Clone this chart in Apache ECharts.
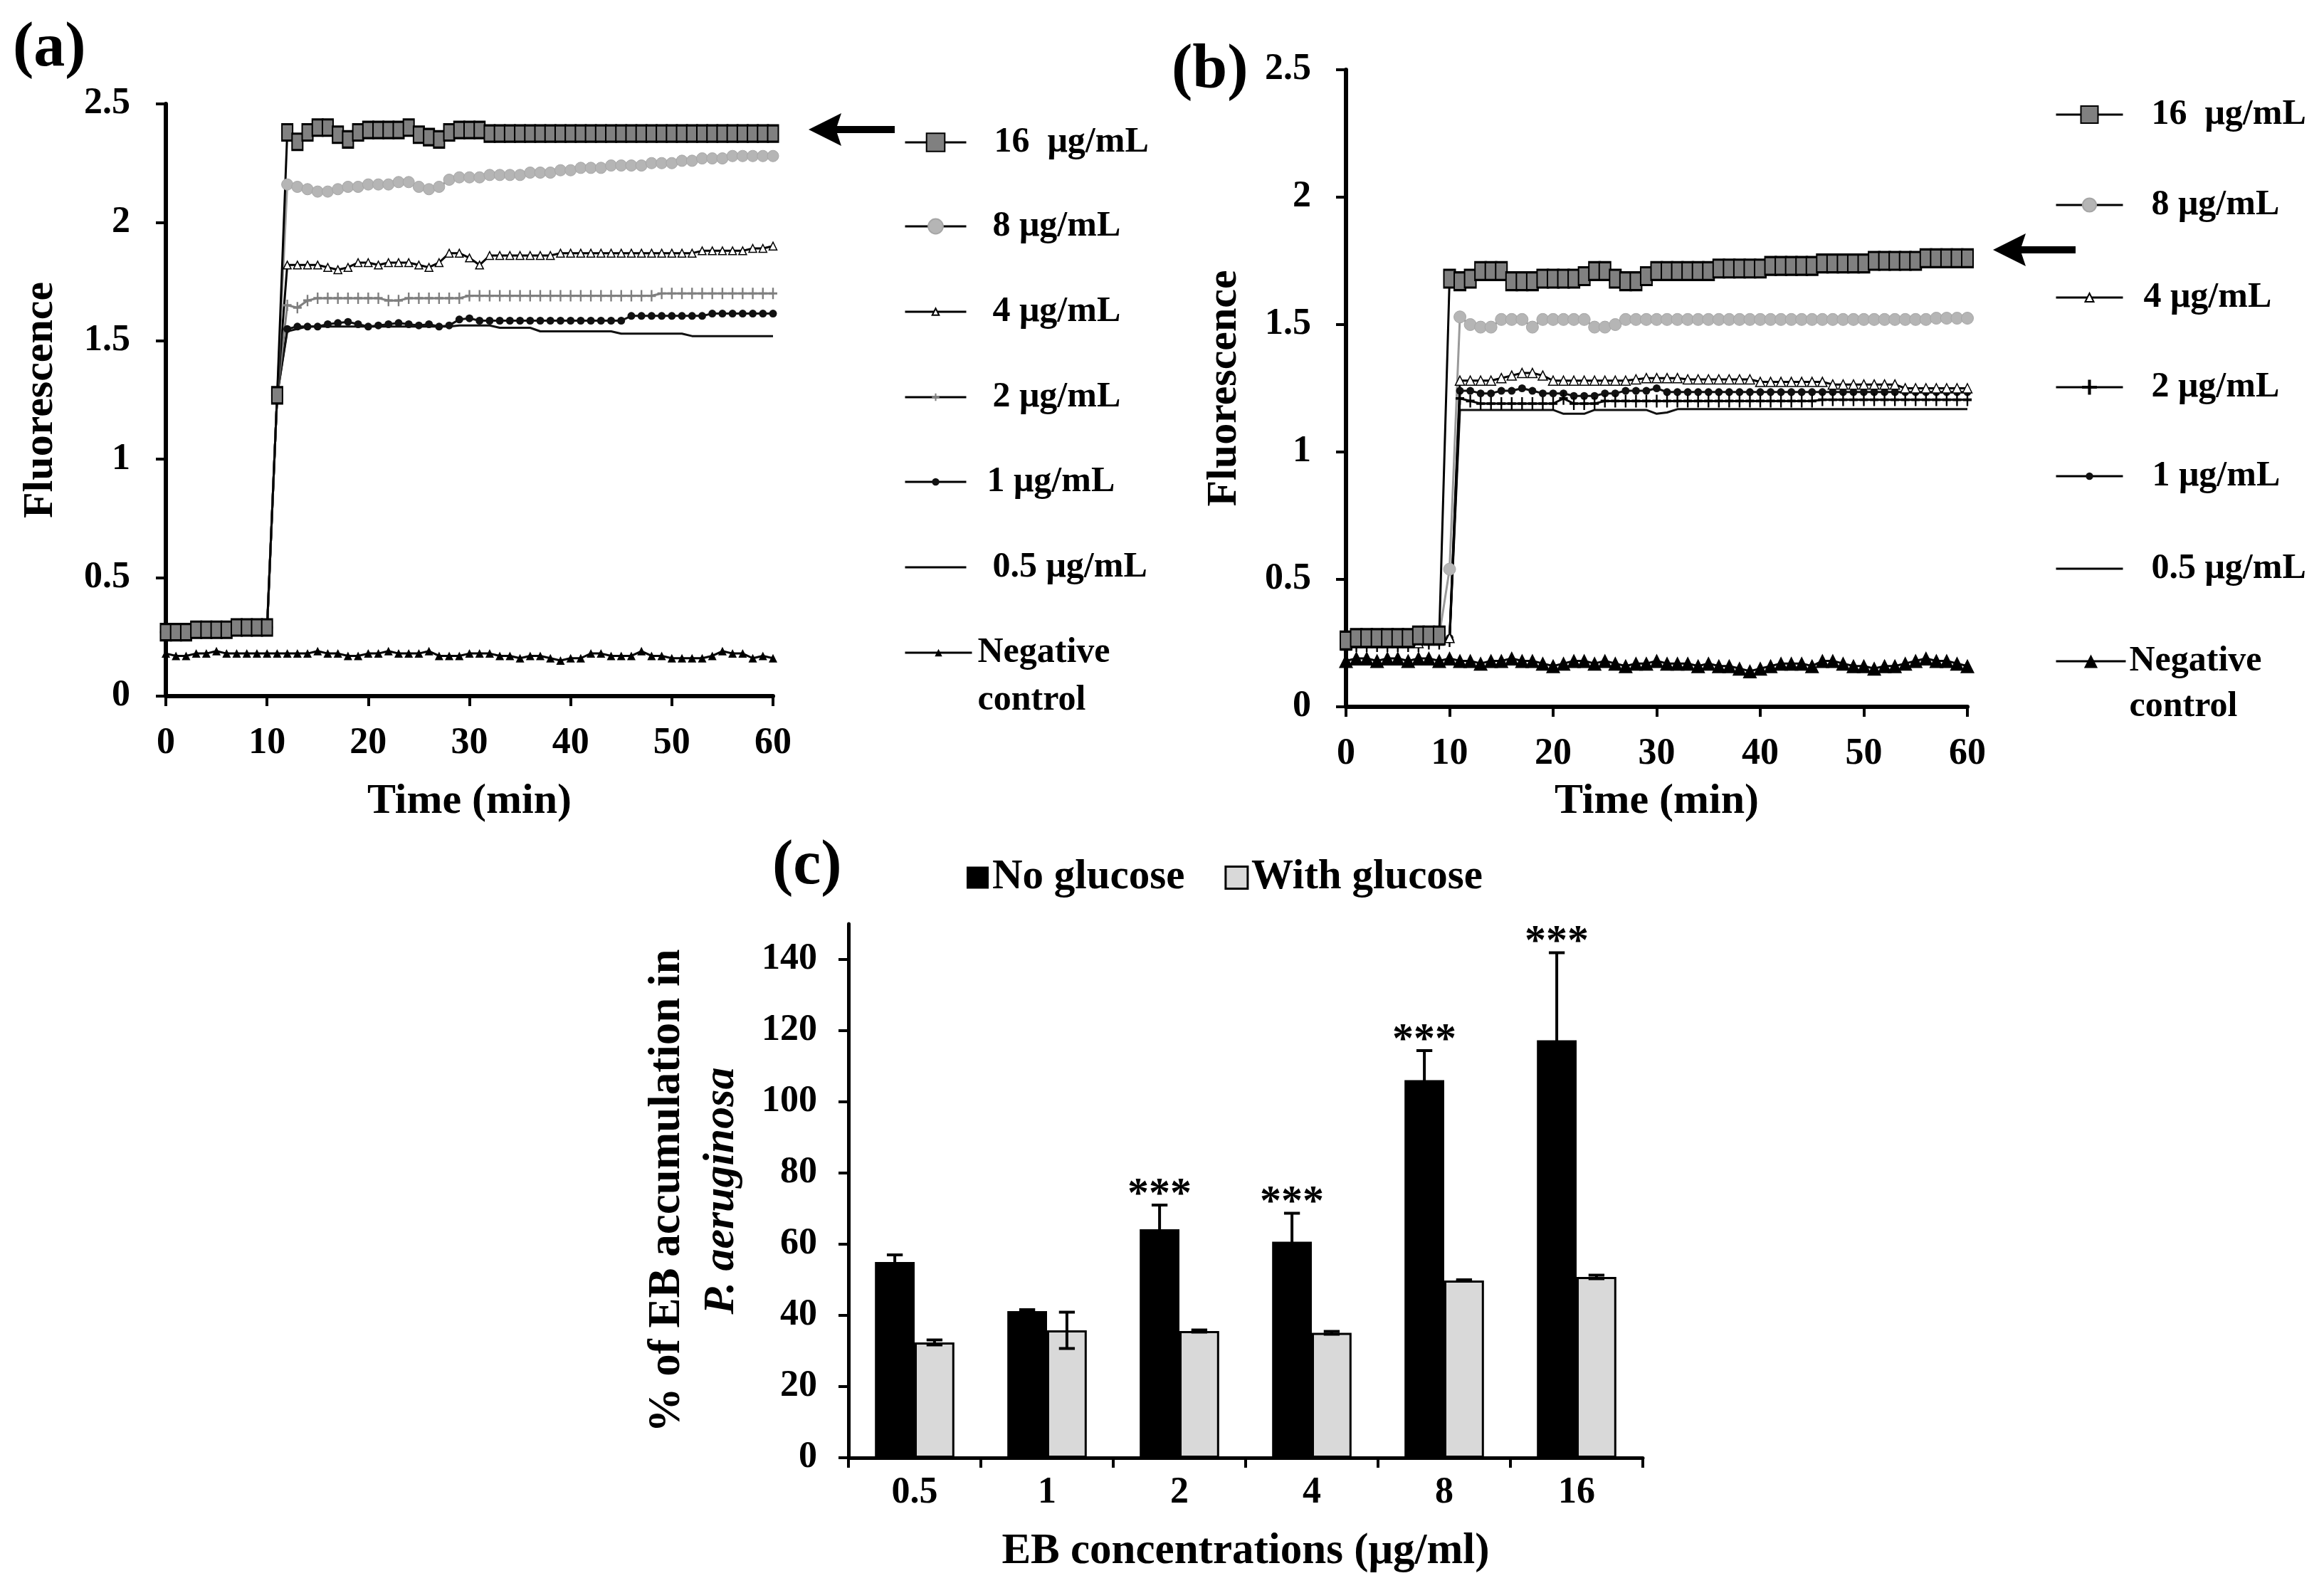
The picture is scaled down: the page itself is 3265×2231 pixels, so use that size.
<!DOCTYPE html>
<html><head><meta charset="utf-8">
<script src="https://cdn.jsdelivr.net/npm/echarts@6/dist/echarts.min.js"></script>
<style>html,body{margin:0;padding:0;background:#fff}#c{width:3265px;height:2231px}</style>
</head><body><div id="c"></div>
<script>
// ---------- DATA ----------
const timeMin = [0,1,2,3,4,5,6,7,8,9,10,11,12,13,14,15,16,17,18,19,20,21,22,23,24,25,26,27,28,29,30,31,32,33,34,35,36,37,38,39,40,41,42,43,44,45,46,47,48,49,50,51,52,53,54,55,56,57,58,59,60];

// Panel (a)
const fluorA16 = [0.27,0.27,0.27,0.28,0.28,0.28,0.28,0.29,0.29,0.29,0.29, 1.27,
  2.38,2.34,2.38,2.40,2.40,2.37,2.35,2.38,2.39,2.39, 2.39,2.39,2.40,2.37,2.36,2.35,2.38,2.39,2.39,2.39,
  2.375,2.375,2.375,2.375,2.375,2.375,2.375,2.375,2.375,2.375,
  2.375,2.375,2.375,2.375,2.375,2.375,2.375,2.375,2.375,2.375,
  2.375,2.375,2.375,2.375,2.375,2.375,2.375,2.375,2.375];
const fluorA8 = [0.27,0.27,0.28,0.28,0.28,0.28,0.28,0.28,0.29,0.29,0.29, 1.27,
  2.16,2.15,2.14,2.13,2.13,2.14,2.15,2.15,2.16,2.16, 2.16,2.17,2.17,2.15,2.14,2.15,2.18,2.19,2.19,2.19,
  2.20,2.20,2.20,2.20,2.21,2.21,2.21,2.22,2.22,2.23, 2.23,2.23,2.24,2.24,2.24,2.24,2.25,2.25,2.25,2.26,
  2.26,2.27,2.27,2.27,2.28,2.28,2.28,2.28,2.28];
const fluorA4 = [0.26,0.27,0.27,0.27,0.27,0.27,0.27,0.28,0.28,0.28,0.28, 1.27,
  1.82,1.82,1.82,1.82,1.81,1.80,1.81,1.83,1.83,1.82, 1.83,1.83,1.83,1.82,1.81,1.83,1.87,1.87,1.85,1.82,
  1.86,1.86,1.86,1.86,1.86,1.86,1.86,1.87,1.87,1.87, 1.87,1.87,1.87,1.87,1.87,1.87,1.87,1.87,1.87,1.87,
  1.87,1.88,1.88,1.88,1.88,1.88,1.89,1.89,1.90];
const fluorA2 = [0.26,0.27,0.27,0.27,0.27,0.27,0.27,0.28,0.28,0.28,0.28, 1.27,
  1.65,1.64,1.67,1.68,1.68,1.68,1.68,1.68,1.68,1.68, 1.67,1.67,1.68,1.68,1.68,1.68,1.68,1.68,1.69,1.69,
  1.69,1.69,1.69,1.69,1.69,1.69,1.69,1.69,1.69,1.69, 1.69,1.69,1.69,1.69,1.69,1.69,1.69,1.70,1.70,1.70,
  1.70,1.70,1.70,1.70,1.70,1.70,1.70,1.70,1.70];
const fluorA1 = [0.26,0.27,0.27,0.27,0.27,0.27,0.27,0.28,0.28,0.28,0.28, 1.27,
  1.55,1.56,1.56,1.56,1.57,1.575,1.58,1.57,1.56,1.565, 1.57,1.575,1.57,1.565,1.57,1.56,1.565,1.59,1.595,1.585,
  1.585,1.585,1.585,1.585,1.585,1.585,1.585,1.585,1.585,1.585, 1.585,1.585,1.585,1.585,1.605,1.605,1.605,1.605,1.605,1.605,
  1.605,1.605,1.615,1.615,1.615,1.615,1.615,1.615,1.615];
const fluorA05 = [0.26,0.27,0.27,0.27,0.27,0.27,0.27,0.28,0.28,0.28,0.28, 1.27,
  1.54,1.55,1.56,1.56,1.56,1.56,1.56,1.56,1.56,1.56, 1.56,1.56,1.56,1.56,1.56,1.56,1.56,1.565,1.565,1.565,
  1.565,1.555,1.555,1.555,1.555,1.54,1.54,1.54,1.54,1.54, 1.54,1.54,1.54,1.53,1.53,1.53,1.53,1.53,1.53,1.53,
  1.52,1.52,1.52,1.52,1.52,1.52,1.52,1.52,1.52];
const fluorANeg = [0.18,0.17,0.17,0.18,0.18,0.19,0.18,0.18,0.18,0.18,0.18,
  0.18,0.18,0.18,0.18,0.19,0.18,0.18,0.17,0.17,0.18, 0.18,0.19,0.18,0.18,0.18,0.19,0.17,0.17,0.17,0.18,
  0.18,0.18,0.17,0.17,0.16,0.17,0.17,0.16,0.15,0.16, 0.16,0.18,0.18,0.17,0.17,0.17,0.19,0.17,0.17,0.16,
  0.16,0.16,0.16,0.17,0.19,0.18,0.18,0.16,0.17,0.16];

// Panel (b)
const fluorB16 = [0.26,0.27,0.27,0.27,0.27,0.27,0.27,0.28,0.28,0.28, 1.68,
  1.67,1.68,1.71,1.71,1.71,1.67,1.67,1.67,1.68,1.68, 1.68,1.68,1.69,1.71,1.71,1.68,1.67,1.67,1.69,1.71,
  1.71,1.71,1.71,1.71,1.71,1.72,1.72,1.72,1.72,1.72, 1.73,1.73,1.73,1.73,1.73,1.74,1.74,1.74,1.74,1.74,
  1.75,1.75,1.75,1.75,1.75,1.76,1.76,1.76,1.76,1.76];
const fluorB8 = [0.26,0.26,0.27,0.26,0.27,0.27,0.27,0.27,0.27,0.28, 0.54,
  1.53,1.50,1.49,1.49,1.52,1.52,1.52,1.49,1.52,1.52, 1.52,1.52,1.52,1.49,1.49,1.50,1.52,1.52,1.52,1.52,
  1.52,1.52,1.52,1.52,1.52,1.52,1.52,1.52,1.52,1.52, 1.52,1.52,1.52,1.52,1.52,1.52,1.52,1.52,1.52,1.52,
  1.52,1.52,1.52,1.52,1.52,1.52,1.525,1.525,1.525,1.525];
const fluorB4 = [0.24,0.25,0.25,0.25,0.25,0.25,0.25,0.25,0.26,0.26,0.27,
  1.28,1.28,1.28,1.28,1.29,1.30,1.31,1.31,1.30,1.28, 1.28,1.28,1.28,1.28,1.28,1.28,1.28,1.285,1.29,1.29,
  1.29,1.29,1.285,1.285,1.285,1.285,1.285,1.285,1.285,1.275, 1.275,1.275,1.275,1.275,1.275,1.275,1.265,1.265,1.265,1.265,
  1.265,1.265,1.265,1.25,1.25,1.25,1.25,1.25,1.25,1.25];
const fluorB2 = [0.23,0.24,0.24,0.24,0.24,0.24,0.24,0.24,0.25,0.25,0.26,
  1.21,1.20,1.19,1.19,1.19,1.19,1.19,1.19,1.19,1.19, 1.21,1.19,1.19,1.19,1.20,1.20,1.20,1.20,1.20,1.20,
  1.20,1.20,1.20,1.20,1.20,1.20,1.20,1.20,1.20,1.20, 1.20,1.20,1.20,1.20,1.20,1.205,1.205,1.205,1.205,1.205,
  1.205,1.205,1.205,1.205,1.205,1.205,1.205,1.205,1.205,1.205];
const fluorB1 = [0.25,0.25,0.25,0.25,0.25,0.25,0.26,0.26,0.26,0.26,0.27,
  1.24,1.24,1.23,1.23,1.24,1.24,1.25,1.24,1.23,1.23, 1.23,1.22,1.22,1.22,1.23,1.23,1.24,1.24,1.24,1.25,
  1.235,1.235,1.235,1.235,1.235,1.235,1.235,1.235,1.235,1.235, 1.235,1.235,1.235,1.235,1.235,1.235,1.235,1.235,1.235,1.235,
  1.235,1.235,1.235,1.235,1.235,1.235,1.235,1.235,1.235,1.235];
const fluorB05 = [0.24,0.24,0.24,0.24,0.24,0.24,0.25,0.25,0.25,0.25,0.26,
  1.165,1.165,1.165,1.165,1.165,1.165,1.165,1.165,1.165,1.165, 1.15,1.15,1.15,1.165,1.165,1.165,1.165,1.165,1.165,1.15,
  1.155,1.168,1.168,1.168,1.168,1.168,1.168,1.168,1.168,1.168, 1.168,1.168,1.168,1.168,1.168,1.168,1.168,1.168,1.168,1.168,
  1.168,1.168,1.168,1.168,1.168,1.168,1.168,1.168,1.168,1.168];
const fluorBNeg = [0.18,0.19,0.19,0.18,0.19,0.19,0.18,0.19,0.19,0.18,0.19,
  0.18,0.18,0.17,0.18,0.18,0.19,0.18,0.18,0.17,0.16, 0.17,0.18,0.18,0.17,0.18,0.17,0.16,0.17,0.17,0.18,
  0.17,0.17,0.17,0.16,0.17,0.16,0.16,0.15,0.14,0.15, 0.16,0.17,0.17,0.17,0.16,0.18,0.18,0.17,0.16,0.16,
  0.15,0.16,0.16,0.17,0.18,0.19,0.18,0.18,0.17,0.16];

// Panel (c)
const ebConc = ['0.5','1','2','4','8','16'];
const noGlucose = [55.0, 41.2, 64.2, 60.7, 106.1, 117.3];
const noGlucoseErr = [2.0, 0.4, 6.8, 8.0, 8.3, 24.6];
const withGlucose = [32.4, 35.8, 35.6, 35.1, 49.8, 50.8];
const withGlucoseErr = [0.7, 5.1, 0.3, 0.4, 0.2, 0.5];
const significance = ['', '', '***', '***', '***', '***'];
const yTicksC = [0, 20, 40, 60, 80, 100, 120, 140];

const seriesLabels = {
  a16:'16  μg/mL', a8:'8 μg/mL', a4:'4 μg/mL', a2:'2 μg/mL', a1:'1 μg/mL', a05:'0.5 μg/mL', aNeg:'Negative\ncontrol',
  b16:'16  μg/mL', b8:'8 μg/mL', b4:'4 μg/mL', b2:'2 μg/mL', b1:'1 μg/mL', b05:'0.5 μg/mL', bNeg:'Negative\ncontrol'
};

// ---------- STYLE / LAYOUT ----------
const FONT = "'Liberation Serif', 'Times New Roman', serif";
const PLUS = 'path://M4,0h2v4h4v2h-4v4h-2v-4h-4v-2h4z';
const TICK_FS = 52, TITLE_FS = 60, LEG_FS = 50;

const styleA = {
  a16: {symbol:'rect', size:[15,23], item:{color:'#808080', borderColor:'#000', borderWidth:2.5}, line:'#000'},
  a8:  {symbol:'circle', size:16, item:{color:'#b5b5b5', borderColor:'#a6a6a6', borderWidth:1}, line:'#9a9a9a'},
  a4:  {symbol:'triangle', size:11, item:{color:'#fff', borderColor:'#000', borderWidth:1.5}, line:'#000'},
  a2:  {symbol:PLUS, size:[12,16], item:{color:'#7f7f7f'}, line:'#7f7f7f'},
  a1:  {symbol:'circle', size:11, item:{color:'#111'}, line:'#111'},
  a05: {symbol:'none', size:0, item:{color:'#111'}, line:'#111'},
  aNeg:{symbol:'triangle', size:12, item:{color:'#000'}, line:'#000'}
};
const styleB = {
  b16: {symbol:'rect', size:[16,25], item:{color:'#808080', borderColor:'#000', borderWidth:2.5}, line:'#000'},
  b8:  {symbol:'circle', size:17, item:{color:'#b5b5b5', borderColor:'#a6a6a6', borderWidth:1}, line:'#9a9a9a'},
  b4:  {symbol:'triangle', size:13, item:{color:'#fff', borderColor:'#000', borderWidth:1.5}, line:'#000'},
  b2:  {symbol:PLUS, size:[12,18], item:{color:'#000'}, line:'#000'},
  b1:  {symbol:'circle', size:11, item:{color:'#111'}, line:'#111'},
  b05: {symbol:'none', size:0, item:{color:'#111'}, line:'#111'},
  bNeg:{symbol:'triangle', size:20, item:{color:'#000'}, line:'#000'}
};
const dataA = {a16:fluorA16, a8:fluorA8, a4:fluorA4, a2:fluorA2, a1:fluorA1, a05:fluorA05, aNeg:fluorANeg};
const dataB = {b16:fluorB16, b8:fluorB8, b4:fluorB4, b2:fluorB2, b1:fluorB1, b05:fluorB05, bNeg:fluorBNeg};

function lineSeries(name, vals, st, gi) {
  return {
    type:'line', name:name, xAxisIndex:gi, yAxisIndex:gi,
    data: timeMin.map((t,i)=>[t, vals[i]]),
    symbol: st.symbol, symbolSize: st.size, showSymbol: st.symbol !== 'none',
    itemStyle: st.item, lineStyle:{color:st.line, width:3}, silent:true
  };
}

// legend layout: [name, centerY, itemWidth, itemHeight, textPadLeft]
const legLayoutA = {left:1270, items:[['a16',200,86,32,34],['a8',318,86,26,32],['a4',438,86,12,32],['a2',558,86,13,32],['a1',677,86,13,24],['a05',797,86,10,32],['aNeg',917,94,13,3]], negLH:67};
const legLayoutB = {left:2887, items:[['b16',161,94,30,35],['b8',288,94,24,35],['b4',418,94,15,24],['b2',544,94,26,35],['b1',669,94,13,36],['b05',799,94,10,35],['bNeg',929,98,24,0]], negLH:64};

function buildLegends(layout) {
  return layout.items.map(([name, cy, w, h, pad]) => {
    const isNeg = name.endsWith('Neg');
    const lh = isNeg ? layout.negLH : 60;
    const ts = {fontFamily:FONT, fontWeight:'bold', fontSize:LEG_FS, color:'#000', lineHeight: lh, padding:[0,0,0,pad]};
    return {
      show:true, orient:'vertical', left: layout.left, top: isNeg ? cy - 1.5*lh : cy - 30, padding:0,
      itemWidth:w, itemHeight:h, selectedMode:false,
      data:[{name:name, lineStyle:{color:'#000', width:3}, itemStyle: name.endsWith('05') ? {opacity:0} : undefined}],
      // a blank first line keeps the first text line level with the legend mark
      formatter: n => (isNeg ? ' \n' : '') + seriesLabels[n],
      textStyle: ts
    };
  });
}

function errorSeries(vals, errs, side, marks) {
  return {
    type:'custom', xAxisIndex:2, yAxisIndex:2, z:5, silent:true,
    data: vals.map((v,i)=>[i, v, errs[i]]),
    renderItem: function(params, api) {
      const i = api.value(0), v = api.value(1), e = api.value(2);
      const band = api.size([1,0])[0];
      const hi = api.coord([i, v + e]), lo = api.coord([i, v - e]);
      const x = hi[0] + side * band * 0.15, cap = band * 0.06;
      const st = {stroke:'#000', lineWidth:4};
      const children = [
        {type:'line', shape:{x1:x, y1:hi[1], x2:x, y2:lo[1]}, style:st},
        {type:'line', shape:{x1:x-cap, y1:hi[1], x2:x+cap, y2:hi[1]}, style:st},
        {type:'line', shape:{x1:x-cap, y1:lo[1], x2:x+cap, y2:lo[1]}, style:st}
      ];
      if (marks && marks[params.dataIndex]) {
        children.push({type:'text', x:x, y:hi[1]-14, style:{text:marks[params.dataIndex], fontFamily:FONT, fontWeight:'bold', fontSize:60, fill:'#000', align:'center', verticalAlign:'middle'}});
      }
      return {type:'group', children:children};
    }
  };
}

function arrowPts(tipX, y, endX) {
  return [[tipX,y],[tipX+46,y-23],[tipX+40,y-5],[endX,y-5],[endX,y+5],[tipX+40,y+5],[tipX+46,y+23]];
}

const axisLineSt = w => ({show:true, lineStyle:{color:'#000', width:w}});
const tickSt = {show:true, length:14, lineStyle:{color:'#000', width:4}};
const labelSt = m => ({fontFamily:FONT, fontWeight:'bold', fontSize:TICK_FS, color:'#000', margin:m});
const nameSt = fs => ({fontFamily:FONT, fontWeight:'bold', fontSize:fs, color:'#000'});

const series = [];
['aNeg','a05','a1','a2','a4','a8','a16'].forEach(n => series.push(lineSeries(n, dataA[n], styleA[n], 0)));
['bNeg','b05','b1','b2','b4','b8','b16'].forEach(n => series.push(lineSeries(n, dataB[n], styleB[n], 1)));
series.push({type:'bar', name:'No glucose', xAxisIndex:2, yAxisIndex:2, data:noGlucose, barWidth:'30%', barGap:'0%', itemStyle:{color:'#000'}, silent:true});
series.push({type:'bar', name:'With glucose', xAxisIndex:2, yAxisIndex:2, data:withGlucose, barWidth:'30%', barGap:'0%', itemStyle:{color:'#d9d9d9', borderColor:'#000', borderWidth:3}, silent:true});
series.push(errorSeries(noGlucose, noGlucoseErr, -1, significance));
series.push(errorSeries(withGlucose, withGlucoseErr, 1, null));

const legends = buildLegends(legLayoutA).concat(buildLegends(legLayoutB));
legends.push({
  show:true, orient:'horizontal', left:1358, top:1233-30, padding:0, itemWidth:31, itemHeight:31, itemGap:56,
  icon:'rect', selectedMode:false,
  data:[{name:'No glucose', itemStyle:{color:'#000'}}, {name:'With glucose', itemStyle:{color:'#d9d9d9', borderColor:'#000', borderWidth:3}}],
  textStyle:{fontFamily:FONT, fontWeight:'bold', fontSize:59, color:'#000', lineHeight:60}
});

const option = {
  animation:false,
  backgroundColor:'#fff',
  grid:[
    {left:233, top:146, width:853, height:832},
    {left:1891, top:98, width:873, height:895},
    {left:1192, top:1298, width:1116, height:750}
  ],
  xAxis:[
    {type:'value', gridIndex:0, min:0, max:60, interval:10, axisLine:axisLineSt(6), axisTick:tickSt, splitLine:{show:false},
     axisLabel:labelSt(41), name:'Time (min)', nameLocation:'middle', nameGap:118, nameTextStyle:nameSt(TITLE_FS)},
    {type:'value', gridIndex:1, min:0, max:60, interval:10, axisLine:axisLineSt(6), axisTick:tickSt, splitLine:{show:false},
     axisLabel:labelSt(41), name:'Time (min)', nameLocation:'middle', nameGap:103, nameTextStyle:nameSt(TITLE_FS)},
    {type:'category', gridIndex:2, data:ebConc, axisLine:axisLineSt(5), axisTick:Object.assign({alignWithLabel:false}, tickSt),
     axisLabel:labelSt(24), name:'EB concentrations (μg/ml)', nameLocation:'middle', nameGap:102, nameTextStyle:nameSt(61)}
  ],
  yAxis:[
    {type:'value', gridIndex:0, min:0, max:2.5, interval:0.5, axisLine:axisLineSt(6), axisTick:tickSt, splitLine:{show:false},
     axisLabel:labelSt(50), name:'Fluorescence', nameLocation:'middle', nameGap:146, nameTextStyle:nameSt(TITLE_FS)},
    {type:'value', gridIndex:1, min:0, max:2.5, interval:0.5, axisLine:axisLineSt(6), axisTick:tickSt, splitLine:{show:false},
     axisLabel:labelSt(49), name:'Fluorescence', nameLocation:'middle', nameGap:141, nameTextStyle:nameSt(TITLE_FS)},
    {type:'value', gridIndex:2, min:0, max:150, axisLine:axisLineSt(5),
     axisTick:Object.assign({customValues:yTicksC}, tickSt), splitLine:{show:false},
     axisLabel:Object.assign({customValues:yTicksC}, labelSt(44)),
     name:'{a|% of EB accumulation in}\n{b|P. aeruginosa}', nameLocation:'middle', nameGap:140,
     nameTextStyle:{rich:{
       a:{fontFamily:FONT, fontWeight:'bold', fontSize:63, color:'#000', lineHeight:76},
       b:{fontFamily:FONT, fontWeight:'bold', fontStyle:'italic', fontSize:62, color:'#000', lineHeight:76}
     }}}
  ],
  legend: legends,
  graphic:[
    {type:'text', x:18, y:69, style:{text:'(a)', fontFamily:FONT, fontWeight:'bold', fontSize:88, fill:'#000', verticalAlign:'middle'}},
    {type:'text', x:1646, y:100, style:{text:'(b)', fontFamily:FONT, fontWeight:'bold', fontSize:88, fill:'#000', verticalAlign:'middle'}},
    {type:'text', x:1085, y:1218, style:{text:'(c)', fontFamily:FONT, fontWeight:'bold', fontSize:88, fill:'#000', verticalAlign:'middle'}},
    {type:'polygon', shape:{points:arrowPts(1136,182,1257)}, style:{fill:'#000'}},
    {type:'polygon', shape:{points:arrowPts(2800,351,2916)}, style:{fill:'#000'}}
  ],
  series: series
};

const chart = echarts.init(document.getElementById('c'), null, {renderer:'canvas'});
chart.setOption(option);
</script></body></html>
